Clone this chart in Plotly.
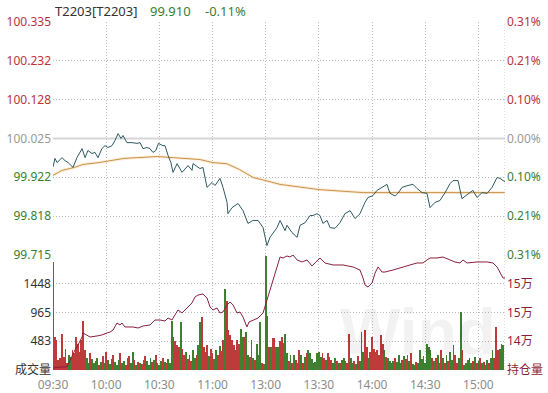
import plotly.graph_objects as go

W, H = 548, 393

# ---------------- data ----------------
prev_close = 100.025

time_ticks = [0, 30, 60, 90, 120, 150, 180, 210, 240]
time_labels = ["09:30", "10:00", "10:30", "11:00", "13:00", "13:30", "14:00", "14:30", "15:00"]

price_ticks = [99.715, 99.818, 99.922, 100.025, 100.128, 100.232, 100.335]
price_tick_labels = ["99.715", "99.818", "99.922", "100.025", "100.128", "100.232", "100.335"]
pct_tick_labels = ["0.31%", "0.21%", "0.10%", "0.00%", "0.10%", "0.21%", "0.31%"]

# minute index (0 = 09:30, 120 = 13:00, 255 = 15:15) and price
price_min = [0, 1.1, 2.3, 5.1, 6.8, 8.5, 11.3, 13.5, 16.4, 18.1, 19.7, 22, 23.7, 25.4, 27.6,
             29.3, 31, 33.3, 35, 36.7, 38.4, 39.5, 41.7, 44.6, 47.4, 49.1, 50.8, 53, 54.7,
             56.4, 58.0, 59.5, 62, 63.2, 64.9, 66.5, 67.7, 70, 72.8, 76.2, 78.4, 79, 82.9,
             84.6, 86.9, 89.7, 91.4, 94.2, 95.9, 98.2, 98.7, 101, 104.4, 107.2, 110, 112.8,
             115.7, 118.5, 120.7, 122.4, 126.4, 128.1, 130.9, 132, 134.8, 137.7, 139.4,
             142.2, 145, 146.7, 148.9, 150.6, 152.3, 154.6, 156.3, 159.1, 161.9, 164.7,
             167.6, 170.4, 173.2, 176, 177.7, 180.5, 182.8, 185.6, 188.4, 190.1, 193,
             194.6, 196.9, 200.3, 203.1, 205.4, 208.2, 211, 212.7, 215.5, 218.3, 221.2,
             224, 225.7, 228.5, 230.7, 232.4, 235.3, 236.9, 239.2, 242, 244.9, 247.7,
             250.5, 252.2, 253.9, 255]
price_val = [99.949, 99.972, 99.961, 99.974, 99.966, 99.961, 99.948, 99.974, 99.998, 99.974,
             99.993, 99.985, 99.988, 99.974, 99.998, 100.006, 100.001, 100.006, 100.020,
             100.038, 100.025, 100.033, 100.014, 100.014, 100.012, 100.014, 99.998, 100.001,
             99.998, 99.988, 99.993, 100.012, 100.006, 100.006, 99.980, 99.961, 99.935,
             99.958, 99.935, 99.953, 99.940, 99.958, 99.945, 99.948, 99.895, 99.908, 99.900,
             99.919, 99.895, 99.855, 99.825, 99.841, 99.852, 99.833, 99.799, 99.807, 99.807,
             99.788, 99.740, 99.762, 99.788, 99.807, 99.780, 99.794, 99.775, 99.762, 99.794,
             99.801, 99.820, 99.820, 99.825, 99.820, 99.799, 99.807, 99.788, 99.786, 99.801,
             99.825, 99.833, 99.812, 99.825, 99.855, 99.868, 99.873, 99.887, 99.895, 99.903,
             99.879, 99.872, 99.879, 99.895, 99.900, 99.903, 99.892, 99.881, 99.879, 99.841,
             99.855, 99.860, 99.881, 99.905, 99.913, 99.913, 99.865, 99.871, 99.879, 99.887,
             99.868, 99.881, 99.879, 99.895, 99.921, 99.919, 99.913, 99.910]

avg_min = [0, 5, 12, 17, 26, 40, 47, 59, 68, 83, 90, 98, 105, 113, 120, 128, 150, 175, 255]
avg_val = [99.927, 99.940, 99.948, 99.956, 99.961, 99.972, 99.974, 99.977, 99.974, 99.969,
           99.961, 99.958, 99.943, 99.921, 99.913, 99.903, 99.889, 99.881, 99.881]

oi_min = [0, 3.9, 7.9, 9.6, 12.4, 14.1, 16.4, 16.9, 19.2, 20.9, 24.8, 27.6, 30.5, 32.2, 33.9,
          36.1, 37.8, 38.9, 40.6, 45.1, 48, 50.8, 54.7, 57.5, 60.4, 63.2, 64.9, 67.1, 68.8,
          70.5, 72.8, 75.6, 78.4, 80.1, 81.8, 84.6, 86.9, 88.6, 90.3, 92.5, 94.2, 95.9, 98.2,
          99.9, 101.6, 103.8, 105.5, 107.2, 109.4, 110.6, 112.8, 115.7, 118.5, 120.7, 122.4,
          125.2, 128.1, 129.8, 132, 133.7, 135.4, 137.7, 140.5, 143.3, 146.1, 150.6, 153.4,
          158, 163.6, 169.3, 173.2, 174.9, 176, 177.7, 180, 181.7, 183.4, 185.6, 187.3, 191.8,
          196.9, 201.4, 205.4, 208.7, 211, 212.7, 216.6, 220, 224, 226.8, 229.6, 231.3, 233.6,
          239.2, 244.9, 248.2, 250.5, 252.2, 253.9, 255]
oi_val = [138760, 138890, 138890, 139800, 141110, 141760, 142800, 143330, 143070, 142800,
          142940, 143070, 143330, 143460, 143720, 144630, 144370, 144630, 144110, 144110,
          143980, 144240, 144370, 145020, 145020, 144890, 145280, 145020, 145670, 146330,
          145940, 146590, 147240, 148020, 148280, 148410, 147890, 146720, 146330, 146590,
          145940, 146070, 146980, 147370, 146980, 145940, 146070, 145410, 144110, 144760,
          145020, 145280, 145940, 147630, 148940, 151150, 153240, 153110, 153370, 153240,
          153500, 152850, 152590, 152850, 152070, 153110, 152460, 152200, 152200, 151940,
          151540, 150500, 149590, 149330, 149850, 151150, 151940, 151280, 151280, 151540,
          151940, 152200, 152460, 152460, 152850, 153110, 153110, 153240, 152850, 152590,
          152460, 152850, 152460, 152590, 152590, 152460, 151940, 151280, 150500, 150500]

volume = [
    1820, 555, 500, 170, 200, 610, 220, 360, 110, 250,
    220, 330, 280, 555, 440, 300, 500, 830, 330, 195,
    110, 280, 180, 120, 150, 200, 90, 140, 230, 120,
    300, 160, 100, 180, 250, 130, 90, 170, 280, 120,
    150, 90, 200, 230, 110, 300, 160, 80, 140, 110,
    100, 170, 240, 150, 90, 200, 140, 170, 260, 120,
    90, 150, 200, 140, 120, 180, 110, 830, 550, 480,
    420, 380, 800, 350, 250, 300, 180, 260, 150, 330,
    200, 260, 420, 800, 890, 390, 300, 420, 240, 350,
    280, 190, 330, 250, 400, 320, 500, 1360, 1165, 665,
    580, 500, 415, 330, 500, 440, 690, 555, 555, 640,
    250, 220, 500, 200, 170, 440, 250, 805, 120, 100,
    1915, 915, 390, 390, 530, 530, 380, 380, 480, 560,
    450, 610, 280, 150, 250, 110, 250, 160, 110, 330,
    250, 110, 220, 280, 330, 280, 180, 110, 130, 280,
    300, 220, 280, 200, 170, 280, 220, 170, 120, 200,
    150, 120, 110, 160, 200, 150, 120, 610, 200, 120,
    150, 100, 230, 150, 640, 300, 665, 380, 200, 300,
    555, 360, 300, 330, 250, 580, 440, 330, 220, 200,
    150, 110, 150, 200, 130, 250, 110, 160, 230, 180,
    250, 150, 280, 100, 90, 130, 110, 330, 180, 230,
    120, 440, 390, 330, 200, 150, 200, 250, 120, 330,
    200, 110, 250, 150, 300, 160, 420, 250, 110, 200,
    970, 330, 90, 110, 170, 200, 110, 150, 220, 120,
    150, 200, 110, 130, 90, 160, 110, 200, 330, 200,
    720, 330, 360, 440, 420]
vol_side = ("grrrrrrgrg" "grrrrrrrrg" "grggrgrgrg" "rgggrgggrg" "grgrggrgrg"
            "rgrgggrgrg" "ggrgrgggrr" "rrgrrgrgrg" "grggrrgrgr" "rggrgrrgrr"
            "rrrgrrggrg" "grggrgggrg" "grrgrrggrr" "rggrgrgrgr" "grgrgggrgg"
            "ggrrgrgrgg" "rgrgggrrgg" "rgrgrgrrgr" "rrgrrrrgrg" "grgrgggrgr"
            "ggrggrgggr" "ggggrgrgrr" "grgrggrrrg" "grgggrgrgr" "grgrggrggr" "rrggg")
vol_min = list(range(len(volume)))

vol_ticks = [0, 483, 965, 1448]
vol_tick_labels = ["成交量", "483", "965", "1448"]
oi_ticks = [138500, 142250, 146000, 149750]
oi_tick_labels = ["持仓量", "14万", "15万", "15万"]

# ---------------- styling ----------------
RED = "#bf3a3a"
GREEN = "#3f8030"
GRAY = "#9a9a9a"
FONT = "Noto Sans, Noto Sans CJK SC, sans-serif"

def col_for(p):
    if abs(p - prev_close) < 1e-6:
        return GRAY
    return "#b8343a" if p > prev_close else "#3b7d2e"

left_text = [f'<span style="color:{col_for(p)}">{t}</span>' for p, t in zip(price_ticks, price_tick_labels)]
right_text = [f'<span style="color:{col_for(p)}">{t}</span>' for p, t in zip(price_ticks, pct_tick_labels)]

bar_colors = [RED if c == "r" else GREEN for c in vol_side]

fig = go.Figure()

# volume bars
fig.add_trace(go.Bar(x=vol_min, y=volume, marker=dict(color=bar_colors, line=dict(width=0)),
                     width=0.45, xaxis="x", yaxis="y3", hoverinfo="skip"))
# open interest
fig.add_trace(go.Scatter(x=oi_min, y=oi_val, mode="lines", line=dict(color="#8a1f3c", width=1),
                         xaxis="x", yaxis="y4", hoverinfo="skip"))
# reference line (prev close)
fig.add_trace(go.Scatter(x=[0, 255], y=[prev_close, prev_close], mode="lines",
                         line=dict(color="#d6d6d6", width=2), xaxis="x", yaxis="y", hoverinfo="skip"))
# average price glow + line
fig.add_trace(go.Scatter(x=avg_min, y=avg_val, mode="lines",
                         line=dict(color="rgba(250,200,140,0.35)", width=3),
                         xaxis="x", yaxis="y", hoverinfo="skip"))
fig.add_trace(go.Scatter(x=avg_min, y=avg_val, mode="lines", line=dict(color="#c8934a", width=1),
                         xaxis="x", yaxis="y", hoverinfo="skip"))
# price
fig.add_trace(go.Scatter(x=price_min, y=price_val, mode="lines", line=dict(color="#2d5a60", width=1),
                         xaxis="x", yaxis="y", hoverinfo="skip"))
# dummy for right percent axis
fig.add_trace(go.Scatter(x=[0], y=[prev_close], mode="lines", opacity=0,
                         xaxis="x", yaxis="y2", hoverinfo="skip"))

L, R, T, B = 53, 505, 22, 370
ph = B - T
price_dom = [(B - 255) / ph, 1]
vol_dom = [0, (B - 255) / ph]

grid = dict(showgrid=True, gridcolor="#bdbdbd", griddash="1px,2px", gridwidth=1)

fig.update_layout(
    width=W, height=H, margin=dict(l=L, r=W - R, t=T, b=H - B, autoexpand=False),
    paper_bgcolor="white", plot_bgcolor="white", showlegend=False,
    font=dict(family=FONT, size=12, color="#333"),
    bargap=0,
    xaxis=dict(domain=[0, 1], range=[0, 255], anchor="y3", tickvals=time_ticks, ticktext=time_labels,
               tickfont=dict(color="#8c8c8c", size=12), ticks="", zeroline=False,
               showline=False, automargin=False, ticklabelstandoff=6, **grid),
    yaxis=dict(domain=price_dom, range=[price_ticks[0], price_ticks[-1]], tickvals=price_ticks,
               ticktext=left_text, ticks="", zeroline=False, showline=False, anchor="x",
               automargin=False, tickfont=dict(size=12), ticklabelstandoff=1, **grid),
    yaxis2=dict(domain=price_dom, range=[price_ticks[0], price_ticks[-1]], overlaying="y", side="right",
                tickvals=price_ticks, ticktext=right_text, ticks="", showgrid=False, zeroline=False,
                anchor="x", automargin=False, tickfont=dict(size=12), ticklabelstandoff=1),
    yaxis3=dict(domain=vol_dom, range=[0, 1931], tickvals=vol_ticks, ticktext=vol_tick_labels,
                ticks="", zeroline=False, showline=False, anchor="x", automargin=False,
                tickfont=dict(size=12, color="#333"), ticklabelstandoff=1, **grid),
    yaxis4=dict(domain=vol_dom, range=[138500, 153500], overlaying="y3", side="right",
                tickvals=oi_ticks, ticktext=oi_tick_labels, ticks="", showgrid=False, zeroline=False,
                anchor="x", automargin=False, tickfont=dict(size=12, color="#8a1f3c"),
                ticklabelstandoff=1),
)

# vertical border at right edge (15:15)
fig.add_shape(type="line", xref="x", yref="paper", x0=255, x1=255, y0=0, y1=1,
              line=dict(color="#bdbdbd", width=1, dash="1px,2px"))

# header
hy = 1 + (T - 11) / ph
fig.add_annotation(x=0, y=hy, xref="paper", yref="paper", text="T2203[T2203]",
                   showarrow=False, xanchor="left", yanchor="middle", font=dict(size=13, color="#333"))
fig.add_annotation(x=(148 - L) / (R - L), y=hy, xref="paper", yref="paper", text="99.910",
                   showarrow=False, xanchor="left", yanchor="middle", font=dict(size=13, color="#3b7d2e"))
fig.add_annotation(x=(203 - L) / (R - L), y=hy, xref="paper", yref="paper", text="-0.11%",
                   showarrow=False, xanchor="left", yanchor="middle", font=dict(size=13, color="#3b7d2e"))
# watermark (kept inside the plot area)
fig.add_annotation(x=(338 - L) / (R - L), y=0, xref="paper", yref="paper", text="<b>Wind</b>",
                   showarrow=False, xanchor="left", yanchor="bottom",
                   font=dict(size=64, color="rgba(0,0,0,0.05)", family="Liberation Sans"))

fig.write_html("out.html", config={"displayModeBar": False},
               post_script="document.body.style.margin='0';document.body.style.padding='0';document.body.style.overflow='hidden';")
